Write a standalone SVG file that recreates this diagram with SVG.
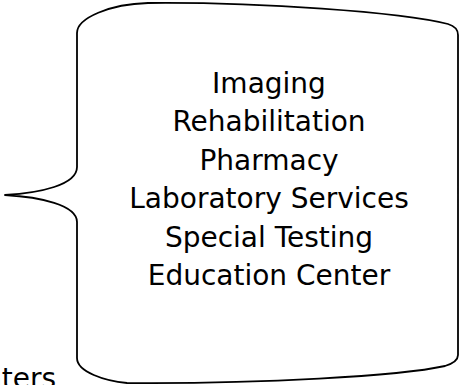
<svg xmlns="http://www.w3.org/2000/svg" width="461" height="385" viewBox="0 0 461 385">
<style>
.shape{fill:#fff;stroke:#000;stroke-width:1.8;stroke-linejoin:round}
.t{font-family:"DejaVu Sans","Verdana",sans-serif;font-size:28px;fill:#000;text-anchor:middle}
</style>
<rect width="461" height="385" fill="#fff"/>
<g id="partial-label">
<text class="t" x="56" y="388" style="text-anchor:end">nters</text>
</g>
<g id="callout">
<path class="shape" d="M77 33 C77 18 110 4 148 3 C260 2 400 12 448 24 Q458 27 458 35 L458 355 Q458 362 445 366 C400 376 260 384 127 383 C105 381 77 372 77 358 L77 222 C77 205 40 197 5 195 C40 193 77 185 77 167 Z"/>
<text class="t" x="269" y="92.5">Imaging</text>
<text class="t" x="269" y="131">Rehabilitation</text>
<text class="t" x="269" y="169.5">Pharmacy</text>
<text class="t" x="269" y="208">Laboratory Services</text>
<text class="t" x="269" y="246.5">Special Testing</text>
<text class="t" x="269" y="285">Education Center</text>
</g>
</svg>
